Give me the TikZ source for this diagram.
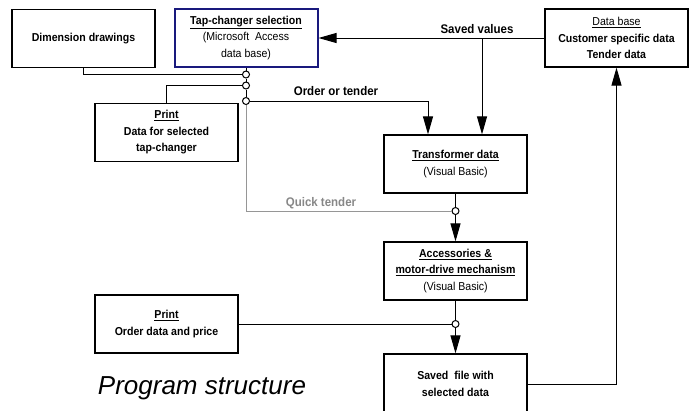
\documentclass[tikz,border=0pt]{standalone}
\usepackage{fontspec}
\setmainfont[FakeStretch=0.92]{Liberation Sans}
\newfontfamily\captionfont{Liberation Sans}
\usetikzlibrary{arrows.meta,positioning}
\definecolor{FrameNavy}{RGB}{25,25,125}
\definecolor{QuickGray}{RGB}{150,150,150}
\definecolor{QuickText}{RGB}{135,135,135}

\begin{document}
\begin{tikzpicture}[x=1pt,y=-1pt,
  box/.style={draw, line width=1.2pt, minimum width=143pt, minimum height=58pt, inner sep=2pt, align=center, font=\fontsize{11.5}{16.5}\selectfont},
  link/.style={line width=1pt},
  tip/.style={-{Triangle[length=18pt,width=10pt]}},
  joint/.style={circle, draw, line width=1pt, fill=white, minimum size=7pt, inner sep=0pt},
  lbl/.style={font=\fontsize{12.5}{14}\selectfont\bfseries}]
\clip (0,0) rectangle (694,410);
% boxes
\node[box] (dim) at (83.5,38.5) {\textbf{Dimension drawings}};
\node[box, draw=FrameNavy, line width=2pt] (tap) at (246,38) {\textbf{\underline{Tap-changer selection}}\\(Microsoft~ Access\\data base)};
\node[box] (db) at (616.5,38) {\underline{Data base}\\\textbf{Customer specific data}\\\textbf{Tender data}};
\node[box] (print1) at (166.5,132.5) {\textbf{\underline{Print}}\\\textbf{Data for selected}\\\textbf{tap-changer}};
\node[box] (trans) at (455.5,164) {\textbf{\underline{Transformer data}}\\(Visual Basic)};
\node[box] (acc) at (455.5,271) {\textbf{\underline{Accessories \&}}\\\textbf{\underline{motor-drive mechanism}}\\(Visual Basic)};
\node[box] (print2) at (166.5,324) {\textbf{\underline{Print}}\\\textbf{Order data and price}};
\node[box, minimum height=60pt] (saved) at (455.5,384) {\textbf{Saved~ file with}\\\textbf{selected data}};
% joints
\node[joint] (c1) at (246,74.5) {};
\node[joint] (c2) at (246,85.5) {};
\node[joint] (c3) at (246,101) {};
\node[joint] (c4) at (455.5,211) {};
\node[joint] (c5) at (455.5,324) {};
% connectors
\draw[link, QuickGray] (c3.south) |- (c4.west);
\draw[link] (tap.south) -- (c1.north);
\draw[link] (c1) -- (c2);
\draw[link] (c2) -- (c3);
\draw[link] (dim.south) |- (c1.west);
\draw[link] (print1.north) |- (c2.west);
\draw[link, tip] (c3.east) -| ([xshift=-27.5pt]trans.north);
\draw[link, tip] (db.west) -- (tap.east);
\path ([xshift=26.5pt]trans.north) coordinate (fork);
\draw[link, tip] (fork |- db.west) -- (fork);
\draw[link] (trans.south) -- (c4.north);
\draw[link, tip] (c4.south) -- (acc.north);
\draw[link] (acc.south) -- (c5.north);
\draw[link, tip] (c5.south) -- (saved.north);
\draw[link] (print2.east) -- (c5.west);
\draw[link, tip] (saved.east) -| (db.south);
% labels
\node[lbl] (savedlbl) at (477,29) {Saved values};
\node[lbl] (orderlbl) at (336,91) {Order or tender};
\node[lbl, text=QuickText] (quicklbl) at (321,203) {Quick tender};
\node[font=\captionfont\itshape\fontsize{26}{30}\selectfont] (title) at (202,388) {Program structure};
\end{tikzpicture}
\end{document}
